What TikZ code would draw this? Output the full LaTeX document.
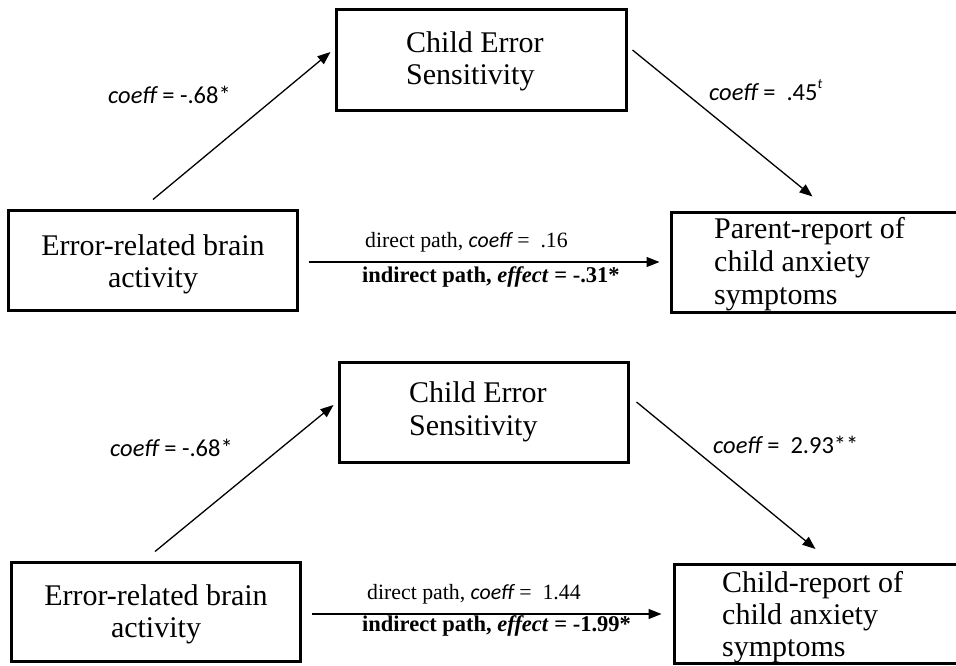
\documentclass[tikz,border=0pt]{standalone}
\usepackage{fontspec}
\setmainfont{Liberation Serif}
\newfontfamily\calfont{Carlito}
\usetikzlibrary{arrows.meta,calc}
\tikzset{
  boxnode/.style={draw, line width=3pt, inner sep=0pt, outer sep=0pt},
  boxtext/.style={inner sep=0pt, anchor=base west, font=\fontsize{30}{33}\selectfont, align=left},
  boxtextc/.style={inner sep=0pt, anchor=base, font=\fontsize{30}{32}\selectfont, align=center},
  coefflab/.style={inner sep=0pt, anchor=base west, font=\calfont\fontsize{24.5}{26}\selectfont},
  pathlab/.style={inner sep=0pt, anchor=base west, font=\fontsize{21.8}{24}\selectfont},
  boldlab/.style={inner sep=0pt, anchor=base west, font=\bfseries\fontsize{22.5}{24}\selectfont},
  arr/.style={line width=1.3pt, -{Triangle[length=13pt,width=10pt]}},
}
\newcommand{\cf}{{\calfont\itshape coeff}}
\begin{document}
\begin{tikzpicture}[x=1pt,y=-1pt]
\useasboundingbox (0,0) rectangle (956,665);
\fill[white] (0,0) rectangle (956,665);
% ---------- top panel ----------
\node[boxnode, minimum width=290pt, minimum height=101pt] (cesA) at (481.5,60) {};
\node[boxnode, minimum width=289pt, minimum height=100pt] (errA) at (153,260.5) {};
\node[boxnode, minimum width=327pt, minimum height=100pt] (parA) at (835,262.5) {};
\node[boxtext, font=\fontsize{30}{32}\selectfont] (cesAt) at (406,84) {Child Error\\Sensitivity};
\node[boxtextc] (errAt) at (153,287) {Error-related brain\\activity};
\node[boxtext] (parAt) at (714,304) {Parent-report of\\child anxiety\\symptoms};
\coordinate (a1s) at ($(errA.north)+(0,-11)$);
\coordinate (a1e) at ($(cesA.west)+(-6,-8)$);
\coordinate (a2s) at ($(cesA.east)+(6,-10)$);
\coordinate (a2e) at ($(parA.north west)+(141,-16)$);
\coordinate (h1s) at ($(errA.east)+(11,1.5)$);
\coordinate (h1e) at ($(parA.west)+(-12,-0.5)$);
\draw[arr] (a1s) -- (a1e);
\draw[arr] (a2s) -- (a2e);
\draw[arr] (h1s) -- (h1e);
\node[coefflab] (l1) at (108,103) {\cf{} = -.68*};
\node[coefflab] (l2) at (709,100) {\cf{} = \ .45\raisebox{0.45em}{\fontsize{14}{14}\selectfont\itshape t}};
\node[pathlab] (d1) at (365,247) {direct path, \cf{} = \ .16};
\node[boldlab] (i1) at (362,282) {indirect path, \textit{effect} = -.31*};
% ---------- bottom panel ----------
\node[boxnode, minimum width=289pt, minimum height=100pt] (cesB) at (484,412.5) {};
\node[boxnode, minimum width=289pt, minimum height=99pt] (errB) at (156,612) {};
\node[boxnode, minimum width=324pt, minimum height=99pt] (chB) at (836.5,613.5) {};
\node[boxtext, font=\fontsize{30}{33}\selectfont] (cesBt) at (409,435) {Child Error\\Sensitivity};
\node[boxtextc] (errBt) at (156,637) {Error-related brain\\activity};
\node[boxtext, font=\fontsize{30}{32}\selectfont] (chBt) at (722,656) {Child-report of\\child anxiety\\symptoms};
\coordinate (b1s) at ($(errB.north)+(-1,-11)$);
\coordinate (b1e) at ($(cesB.west)+(-6,-7.5)$);
\coordinate (b2s) at ($(cesB.east)+(8,-10.5)$);
\coordinate (b2e) at ($(chB.north west)+(141,-15)$);
\coordinate (h2s) at ($(errB.east)+(11,2)$);
\coordinate (h2e) at ($(chB.west)+(-13,0.5)$);
\draw[arr] (b1s) -- (b1e);
\draw[arr] (b2s) -- (b2e);
\draw[arr] (h2s) -- (h2e);
\node[coefflab] (l3) at (110,456) {\cf{} = -.68*};
\node[coefflab] (l4) at (713,453) {\cf{} = \ 2.93**};
\node[pathlab] (d2) at (367,599) {direct path, \cf{} = \ 1.44};
\node[boldlab] (i2) at (362,631) {indirect path, \textit{effect} = -1.99*};
\end{tikzpicture}
\end{document}
